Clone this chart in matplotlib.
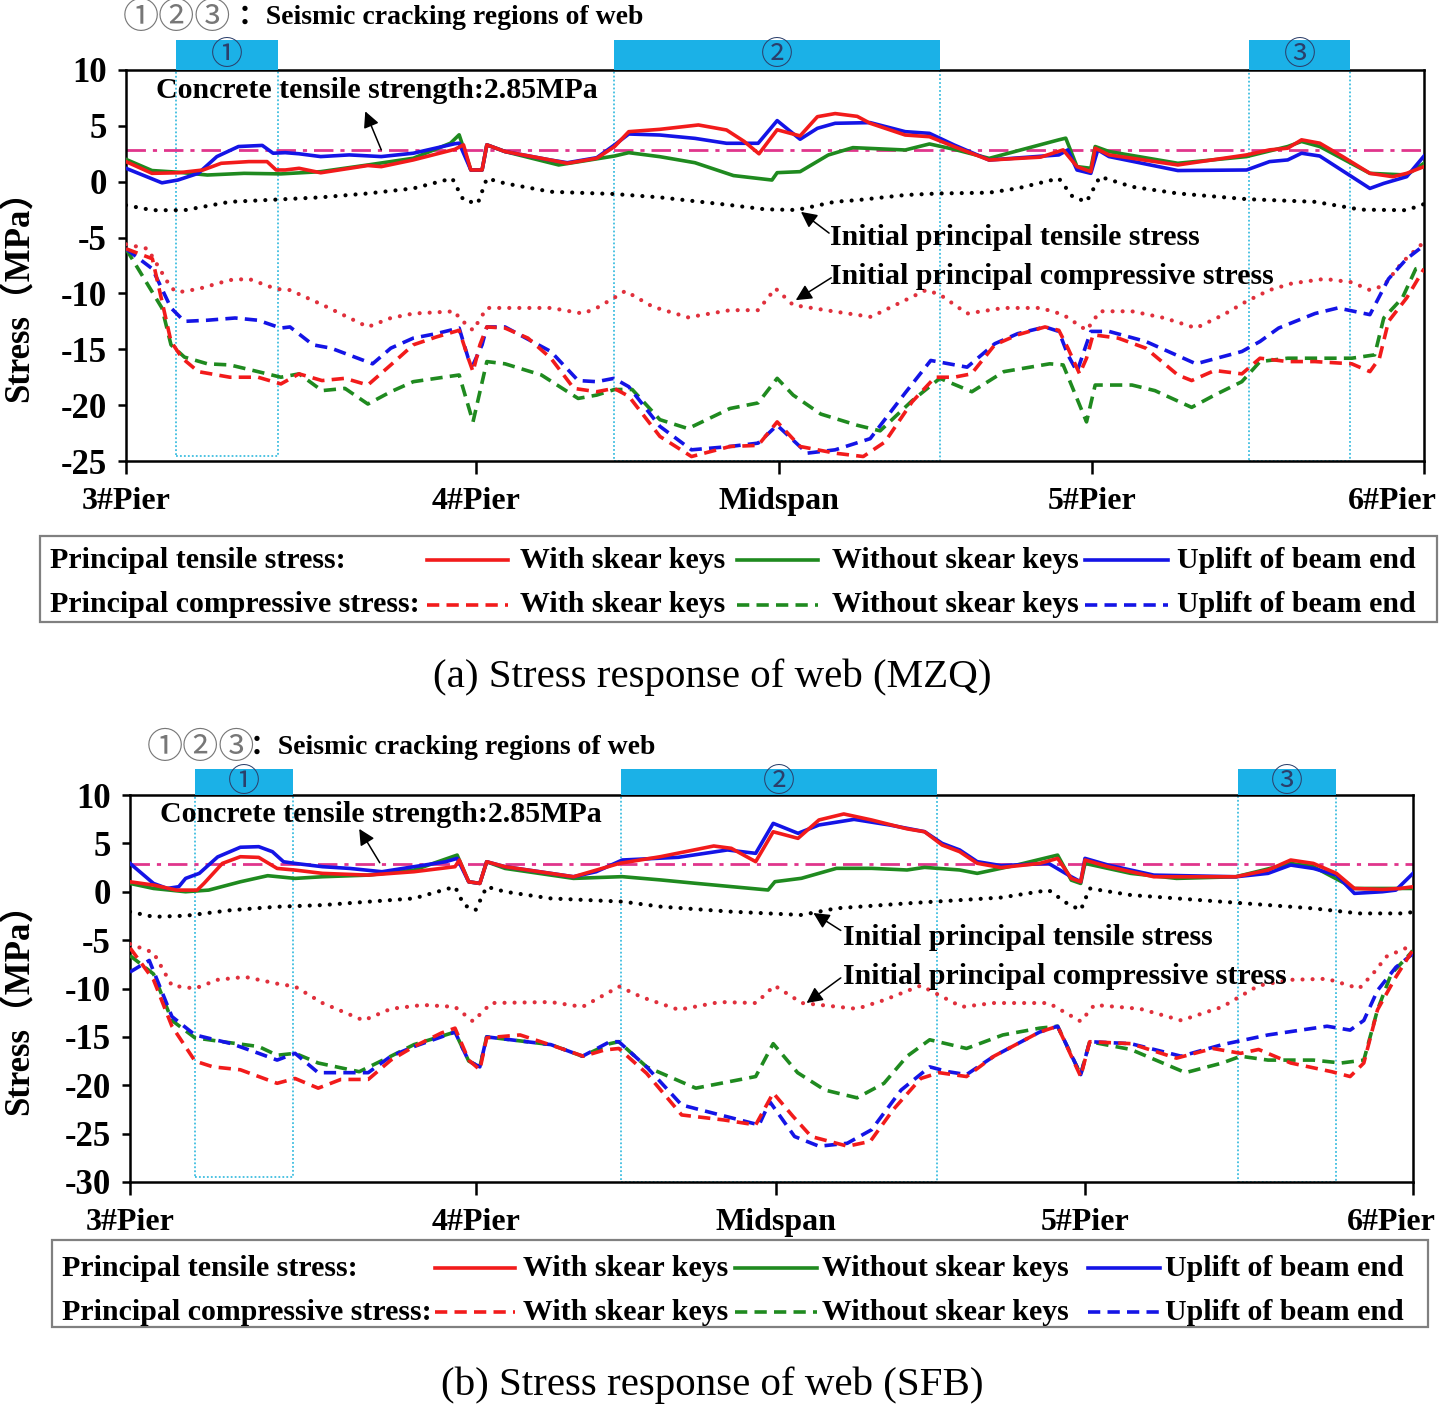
import matplotlib
matplotlib.use("Agg")
import matplotlib.pyplot as plt
from matplotlib.patches import Rectangle
from matplotlib.transforms import blended_transform_factory

plt.rcParams["axes.unicode_minus"] = False

# ---------------------------------------------------------------------------
# DATA  (x = distance along the girder, y = stress in MPa)
# ---------------------------------------------------------------------------
PIER_X = [0, 81, 151, 223.3, 300]
PIER_LABELS = ["3#Pier", "4#Pier", "Midspan", "5#Pier", "6#Pier"]
TENSILE_STRENGTH = 2.85

# ---- panel (a) MZQ --------------------------------------------------------
A_REGIONS = [(11.6, 35.1), (112.8, 188.1), (259.5, 282.9)]

a_t_with_x = [0, 6, 12, 17.8, 22, 28.4, 32.6, 34.7, 36.8, 40, 45, 55.9, 59, 66.4, 76, 78, 79.7, 82.3, 83.4,
              87.6, 98, 102, 108.8, 112.9, 116.2, 123.4, 132.3, 138.8, 142.9, 146.3, 150.5, 155.8, 159.8,
              163.9, 169, 172, 180.1, 185.7, 191.4, 199.5, 211.4, 216.6, 219.8, 223, 224, 227.2, 243.1,
              253.7, 259, 264.3, 268.5, 271.7, 275.9, 281.2, 287.5, 292.8, 296, 300]
a_t_with_y = [1.8, 0.75, 0.8, 1.05, 1.65, 1.8, 1.8, 1.05, 1.05, 1.2, 0.8, 1.45, 1.35, 1.95, 2.9, 3.3, 1.05,
              1.05, 3.3, 2.7, 1.95, 1.65, 2.1, 3.14, 4.48, 4.69, 5.08, 4.63, 3.6, 2.5, 4.65, 4.1, 5.82, 6.1,
              5.85, 5.23, 4.18, 4.03, 3.14, 1.94, 2.2, 2.85, 1.35, 0.9, 3.0, 2.4, 1.5, 2.1, 2.4, 2.85, 3.0,
              3.75, 3.45, 2.25, 0.75, 0.45, 0.75, 1.35]

a_t_without_x = [0, 6, 12, 18.8, 27.3, 35.8, 45, 55.9, 66.4, 75, 77, 79.7, 82.3, 83.4, 87.6, 100, 112.9,
                 116.2, 123.4, 131.5, 140.4, 149.3, 150.5, 155.8, 162.3, 168, 180.1, 185.7, 191.4, 199.5,
                 215.6, 217.2, 219.8, 223, 224, 227.2, 243.1, 259, 268.5, 271.7, 275.9, 287.5, 296, 300]
a_t_without_y = [2.0, 1.0, 0.85, 0.6, 0.75, 0.7, 0.9, 1.5, 2.1, 3.45, 4.2, 1.05, 1.05, 3.3, 2.7, 1.5, 2.3,
                 2.6, 2.24, 1.7, 0.55, 0.15, 0.81, 0.9, 2.39, 3.05, 2.84, 3.38, 2.9, 2.09, 3.75, 3.9, 1.35,
                 1.2, 3.15, 2.7, 1.65, 2.25, 3.15, 3.6, 3.15, 0.75, 0.6, 1.65]

a_t_uplift_x = [0, 8.3, 12, 16.7, 21, 26, 31.5, 34, 36.8, 40, 45, 51.6, 59, 66.4, 76, 77, 79.7, 82.3, 83.4,
                87.6, 98, 102, 108.8, 112.9, 116.2, 123.4, 131.5, 138.8, 146.1, 150.5, 155.8, 159.8, 163.9,
                172, 180.1, 185.7, 191.4, 199.5, 215.6, 217.7, 219.8, 223, 224.6, 227.2, 243.1, 259, 264.3,
                268.5, 271.7, 275.9, 287.5, 290.7, 296, 300]
a_t_uplift_y = [1.2, -0.1, 0.15, 0.75, 2.25, 3.15, 3.25, 2.55, 2.6, 2.5, 2.25, 2.4, 2.25, 2.55, 3.4, 3.45,
                1.05, 1.05, 3.3, 2.7, 1.95, 1.7, 2.15, 3.29, 4.27, 4.18, 3.88, 3.44, 3.44, 5.47, 3.8, 4.78,
                5.23, 5.29, 4.48, 4.33, 3.29, 1.94, 2.4, 2.85, 1.05, 0.75, 2.85, 2.25, 1.0, 1.05, 1.8, 1.95,
                2.55, 2.3, -0.6, -0.15, 0.45, 2.3]

a_t_init_x = [0, 6.1, 13.5, 24, 34.7, 45, 55.9, 66.4, 75.4, 78, 81.3, 83.4, 87.6, 98.2, 112.8, 123.4, 139.6,
              147.7, 155, 163.9, 169, 180.1, 188, 199.5, 206, 215.6, 218.8, 222, 225.1, 232.5, 243.1, 259,
              274.8, 285.4, 296, 300]
a_t_init_y = [-2.1, -2.55, -2.55, -1.8, -1.6, -1.4, -1.05, -0.6, 0.3, -1.65, -1.95, 0.3, -0.15, -0.9, -1.1,
              -1.4, -2.09, -2.47, -2.53, -1.79, -1.65, -1.19, -1.05, -0.98, -0.6, 0.3, -1.35, -1.8, 0.45,
              -0.45, -1.05, -1.56, -1.8, -2.5, -2.55, -2.0]

a_c_init_x = [0, 5, 10.4, 12, 16.7, 24, 28.4, 34.7, 37.9, 45.3, 55.9, 61.2, 66.4, 76, 77, 80.2, 83.4, 87.6,
              98.2, 105.6, 108.8, 112.8, 115.4, 121.8, 129.9, 139.6, 146.1, 150.1, 154.2, 163.9, 172.2,
              179.6, 184.9, 188.1, 194.4, 202.9, 211.4, 216.6, 222, 225.1, 232.5, 240, 247.3, 253.7, 259,
              264.3, 269.5, 277, 283.3, 287.5, 290.7, 295, 300]
a_c_init_y = [-5.6, -6.0, -9.5, -9.9, -9.6, -8.8, -8.7, -9.6, -9.7, -11.0, -13.0, -12.2, -11.8, -11.6,
              -12.2, -13.3, -11.3, -11.3, -11.3, -11.8, -11.3, -10.4, -9.78, -11.2, -12.14, -11.5, -11.5,
              -9.55, -11.04, -11.63, -12.1, -10.7, -9.7, -10.1, -11.8, -11.3, -11.3, -11.9, -13.3, -11.6,
              -11.6, -12.2, -13.1, -11.9, -10.7, -9.7, -9.1, -8.7, -9.0, -9.7, -9.3, -7.2, -5.4]

a_c_with_x = [0, 6.1, 10.4, 13, 16.7, 24, 30.5, 35.8, 40, 45.3, 50.6, 55.9, 61.2, 66.4, 71.7, 77, 79.1, 80.2,
              81.8, 83.4, 87.6, 92.9, 98.2, 103.5, 108.8, 112.8, 116.2, 123.4, 130.7, 139.6, 146.1, 150.5,
              155.8, 163.9, 170.4, 175.4, 181.7, 187, 191.4, 195.4, 200.8, 206.1, 212.4, 215.6, 217.7,
              220.4, 222, 223.5, 229.3, 235.7, 243.1, 246.3, 251.6, 257.9, 262.1, 268.5, 274.8, 283.3,
              287.5, 289.7, 291.8, 296, 300]
a_c_with_y = [-6.0, -6.9, -14.3, -15.8, -17.0, -17.5, -17.5, -18.1, -17.2, -17.8, -17.6, -18.2, -16.4,
              -14.6, -13.9, -13.3, -15.8, -17.0, -14.6, -13.0, -13.1, -14.0, -15.8, -18.5, -18.8, -18.5,
              -19.2, -22.8, -24.6, -23.7, -23.6, -21.5, -23.7, -24.3, -24.6, -23.3, -19.7, -17.5, -17.5,
              -17.2, -14.6, -13.7, -13.0, -13.3, -14.9, -17.2, -15.8, -13.7, -14.0, -14.9, -17.3, -17.8,
              -16.9, -17.2, -15.8, -16.1, -16.1, -16.3, -17.0, -15.8, -12.5, -10.4, -7.8]

a_c_without_x = [0, 8.3, 10.4, 13.5, 18.8, 24, 30.5, 35.8, 40, 45.3, 50.6, 55.9, 61.2, 66.4, 77, 80.2, 83.4,
                 87.6, 96, 104.5, 108.8, 112.9, 117, 123.4, 129.9, 139.6, 146.1, 150.5, 154.2, 160.6, 169,
                 174.3, 181.7, 188.1, 195.5, 202.9, 213.5, 216.6, 222, 224, 232.5, 237.8, 246.3, 251.6,
                 257.9, 262.1, 268.5, 274.8, 283.3, 288.6, 290.7, 295, 298.1, 300]
a_c_without_y = [-6.0, -11.3, -14.6, -15.7, -16.3, -16.4, -17.0, -17.5, -17.2, -18.7, -18.5, -19.9, -18.8,
                 -17.9, -17.3, -21.5, -16.1, -16.3, -17.3, -19.4, -19.1, -18.6, -18.6, -21.3, -22.1, -20.3,
                 -19.8, -17.6, -19.1, -20.8, -21.8, -22.3, -19.6, -17.6, -18.8, -17.0, -16.3, -16.4, -21.5,
                 -18.2, -18.2, -18.7, -20.2, -19.1, -17.9, -16.1, -15.8, -15.8, -15.8, -15.5, -12.2, -10.4,
                 -7.8, -7.6]

a_c_uplift_x = [0, 6.1, 10.4, 13.5, 18.8, 25.2, 30.5, 35.8, 37.9, 43.2, 47.4, 57, 61.2, 66.4, 71.7, 77, 79.1,
                80.2, 82.3, 83.4, 87.6, 98.2, 104.5, 108.8, 112.8, 116.2, 123.4, 130.7, 139.6, 146.1, 150.5,
                157.4, 163.9, 172, 180.1, 186, 194.4, 200.8, 206.1, 212.4, 215.6, 217.7, 219.8, 223, 227.2,
                235.7, 247.3, 257.9, 262.1, 266.4, 274.8, 280.1, 287.5, 291.8, 296, 300]
a_c_uplift_y = [-6.0, -7.8, -11.3, -12.5, -12.4, -12.2, -12.4, -13.1, -13.0, -14.6, -14.9, -16.3, -14.9,
                -14.0, -13.6, -13.1, -15.8, -16.4, -14.6, -13.0, -13.0, -15.2, -17.8, -17.9, -17.6, -18.35,
                -21.9, -24.0, -23.7, -23.4, -21.8, -24.3, -24.0, -23.0, -18.9, -16.0, -16.6, -14.5, -13.6,
                -13.0, -13.4, -15.5, -17.0, -13.4, -13.4, -14.3, -16.3, -15.2, -14.3, -13.1, -11.8, -11.3,
                -11.9, -8.7, -6.9, -5.7]

# ---- panel (b) SFB --------------------------------------------------------
B_REGIONS = [(15.2, 38.1), (114.8, 188.7), (259.1, 282.0)]

b_t_with_x = [0, 5.5, 10.9, 15.7, 17.3, 21.6, 25.8, 30.1, 34.4, 38.6, 45, 55.7, 66.4, 76, 77, 79.2, 81.8,
              83.4, 87.7, 103.7, 114.4, 124.1, 136.5, 140.6, 146.3, 150.4, 156.2, 161.1, 166.9, 173.4, 181.7,
              185.8, 189.9, 194, 198.1, 203.7, 212.7, 216.9, 220.1, 222.3, 223.3, 228.7, 239.4, 258.6,
              266.1, 271.4, 276.7, 282.1, 286.3, 292.8, 297, 300]
b_t_with_y = [1.03, 0.69, 0.17, 0.17, 0.86, 2.93, 3.62, 3.55, 2.41, 2.24, 1.9, 1.72, 2.07, 2.59, 3.28,
              1.03, 0.86, 3.1, 2.59, 1.55, 2.93, 3.63, 4.73, 4.49, 3.11, 6.2, 5.52, 7.42, 8.04, 7.42, 6.5,
              6.2, 4.83, 4.14, 2.94, 2.5, 2.93, 3.45, 1.38, 1.03, 3.28, 2.59, 1.55, 1.55, 2.24, 3.28, 2.93,
              1.9, 0.34, 0.24, 0.34, 0.52]

b_t_without_x = [0, 5.5, 13, 18.4, 25.8, 32.2, 38.6, 45, 55.7, 66.4, 76.5, 79.2, 81.8, 83.4, 87.7, 103.7,
                 115.1, 124.1, 132.3, 140.6, 149.2, 150.8, 157, 165.2, 173.4, 181.7, 185.8, 194, 198.1,
                 207.3, 216.9, 220.1, 222.3, 223.3, 234, 244.7, 258.6, 271.4, 276.7, 286.3, 294.9, 300]
b_t_without_y = [0.86, 0.34, 0, 0.17, 1.03, 1.66, 1.38, 1.55, 1.72, 2.24, 3.79, 1.03, 0.86, 3.1, 2.41,
                 1.38, 1.56, 1.22, 0.87, 0.53, 0.18, 1.04, 1.39, 2.42, 2.42, 2.25, 2.52, 2.25, 1.9, 2.76,
                 3.79, 1.2, 0.86, 2.93, 1.9, 1.38, 1.55, 2.93, 2.59, 0.34, 0.34, 0.34]

b_t_uplift_x = [0, 5.5, 8.7, 11.4, 13, 16.2, 20.5, 25.8, 30.1, 33.3, 35.9, 38.6, 45, 51.4, 58.9, 66.4, 73.8,
                76.5, 79.2, 81.8, 83.4, 87.7, 98.4, 103.7, 109, 115.1, 128.2, 139.7, 146.3, 150.4, 156.2,
                161.1, 169.3, 177.6, 185.8, 189.9, 194, 198.1, 203.7, 214.8, 220.1, 222.3, 223.3, 228.7,
                239.4, 258.6, 266.1, 271.4, 276.7, 282.1, 286.3, 292.8, 296, 300]
b_t_uplift_y = [2.93, 0.86, 0.34, 0.52, 1.38, 1.9, 3.6, 4.6, 4.66, 4.14, 3.1, 2.93, 2.59, 2.41, 2.07, 2.59,
                3.1, 3.45, 1.03, 0.86, 3.1, 2.59, 1.9, 1.55, 2.07, 3.28, 3.56, 4.32, 3.97, 7.07, 6.04, 6.9,
                7.48, 6.9, 6.21, 5.0, 4.32, 3.11, 2.7, 2.93, 1.55, 1.03, 3.45, 2.76, 1.72, 1.55, 1.9, 2.76,
                2.41, 1.72, -0.17, 0, 0.17, 1.9]

b_t_init_x = [0, 5.5, 13, 23.7, 34.4, 45, 55.7, 66.4, 76, 78.1, 80.8, 83.4, 87.7, 98.4, 115.1, 124.1, 140.6,
              157, 165.2, 181.7, 203.7, 214.8, 219.1, 222.3, 224.4, 234, 255.4, 276.7, 287.4, 297.6, 300]
b_t_init_y = [-2.07, -2.59, -2.48, -1.9, -1.55, -1.38, -1.03, -0.69, 0.52, -1.38, -1.9, 0.52, 0, -0.69,
              -1.02, -1.54, -2.06, -2.4, -1.71, -1.2, -0.6, 0.17, -1.2, -1.9, 0.34, -0.34, -1.03, -1.72,
              -2.24, -2.24, -2.1]

b_c_init_x = [0, 5.5, 9.8, 15.2, 20.5, 26.9, 34.4, 38.6, 45, 54.6, 61, 68.5, 76, 80.2, 84.5, 98.4, 105.8,
              114.4, 119.7, 128.3, 137.9, 146.4, 150.7, 157.1, 170, 176.3, 184.9, 194.5, 202, 214.8, 222.3,
              225.5, 236.2, 245.8, 255.4, 263.9, 271.4, 279.9, 287.4, 290.6, 293.8, 300]
b_c_init_y = [-5.4, -6.3, -9.7, -10.0, -9.1, -8.8, -9.5, -9.8, -11.5, -13.3, -12.1, -11.7, -11.9, -13.4,
              -11.5, -11.4, -11.9, -9.8, -10.9, -12.2, -11.4, -11.5, -9.7, -11.5, -12.1, -11.2, -9.7,
              -11.9, -11.5, -11.5, -13.4, -11.7, -12.1, -13.3, -11.9, -9.7, -9.1, -9.0, -10.0, -8.5, -6.7,
              -5.5]

b_c_with_x = [0, 5.5, 9.8, 15.2, 19.4, 25.8, 34.4, 38.6, 44, 49.3, 55.7, 61, 66.4, 72.8, 76, 79.2, 81.8,
              83.4, 91.2, 99.5, 106, 111, 114.3, 120.8, 129, 138.9, 146.3, 150.4, 155, 159.3, 167.8, 173.1,
              178.5, 184.9, 189.2, 195.6, 202, 212.7, 216.9, 222.3, 224.4, 234, 244.7, 253.2, 259.7, 263.9,
              271.4, 281, 285.3, 288.5, 291.7, 296, 300]
b_c_with_y = [-5.8, -9.1, -13.9, -17.5, -18.1, -18.4, -19.8, -19.3, -20.3, -19.4, -19.4, -17.4, -16.0,
              -14.6, -14.1, -17.4, -18.4, -15.1, -14.8, -16.0, -17.0, -16.35, -16.2, -18.77, -23.07, -23.59,
              -24.1, -20.8, -23.2, -25.3, -26.3, -25.8, -22.5, -19.3, -18.7, -19.1, -17.0, -14.5, -13.9,
              -19.1, -15.5, -15.7, -17.2, -16.2, -16.7, -16.3, -17.7, -18.6, -19.1, -17.7, -12.2, -8.8, -6.0]

b_c_without_x = [0, 5.5, 9.8, 15.2, 21.6, 30.1, 34.4, 38.6, 44, 53.6, 61, 66.4, 76, 79.2, 81.8, 83.4, 98.4,
                 105.8, 112.2, 114.3, 120.8, 132.3, 146.3, 150.4, 156.1, 162.5, 170, 176.3, 181.7, 187,
                 195.6, 204.1, 212.7, 216.9, 222.3, 224.4, 234, 246.8, 255.4, 259.7, 266.1, 276.7, 283.2,
                 288.5, 291.7, 294.9, 300]
b_c_without_y = [-6.6, -8.5, -13.3, -15.1, -15.5, -16.0, -16.9, -16.7, -17.7, -18.6, -17.0, -15.8, -14.5,
                 -17.5, -18.1, -15.0, -15.8, -17.0, -15.7, -15.5, -18.1, -20.3, -19.1, -15.7, -18.7, -20.5,
                 -21.3, -19.8, -17.0, -15.3, -16.2, -14.8, -14.1, -13.9, -18.9, -15.5, -16.3, -18.7, -17.7,
                 -17.0, -17.4, -17.4, -17.7, -17.4, -12.2, -8.5, -6.1]

b_c_uplift_x = [0, 4.5, 9.8, 15.2, 23.7, 30.1, 34.4, 38.6, 44, 50.4, 55.7, 61, 66.4, 76, 79.2, 81.8, 83.4,
                98.4, 105.8, 112.2, 114.3, 120.8, 129, 136.5, 147.1, 149.6, 155.4, 161.1, 167.7, 173.4,
                180.3, 187, 191.3, 195.6, 202, 212.7, 216.9, 222.3, 224.4, 234, 245.8, 255.4, 266.1, 279.9,
                285.3, 288.5, 291.7, 296, 300]
b_c_uplift_y = [-8.3, -7.1, -12.9, -14.8, -15.7, -16.7, -17.4, -16.7, -18.7, -18.7, -18.7, -17.0, -16.0,
                -14.5, -17.5, -18.1, -15.0, -15.8, -17.0, -15.5, -15.5, -18.1, -22.04, -22.9, -24.1, -21.7,
                -25.3, -26.3, -26.0, -24.6, -20.5, -18.1, -18.6, -18.9, -17.0, -14.5, -13.9, -18.9, -15.5,
                -15.7, -17.0, -15.8, -14.8, -13.9, -14.3, -13.3, -10.2, -7.8, -6.4]

# ---------------------------------------------------------------------------
# STYLE
# ---------------------------------------------------------------------------
W, H = 1440, 1408
SERIF = ["Liberation Serif", "Noto Sans CJK SC"]
CJK = ["Noto Sans CJK SC", "DejaVu Sans"]
RED, GREEN, BLUE = "#F21B1B", "#1F8A1F", "#1414E6"
INIT_RED = "#E0303C"
CYAN, CYAN_EDGE = "#1BB1E7", "#3FBEE0"
PINK = "#E0358C"
DASH = (0, (3.4, 2.0))
DOT = (0, (0.01, 2.4))
LW = 2.6

fig = plt.figure(figsize=(W / 100, H / 100), dpi=100)


def px_axes(l, t, r, b):
    return fig.add_axes([l / W, 1 - b / H, (r - l) / W, (b - t) / H])


def draw_panel(ax, regions, ylim, bar_h, box_bottom, last_shift, series, notes):
    tr = blended_transform_factory(ax.transData, ax.transAxes)
    for k, (x0, x1) in enumerate(regions):
        ax.add_patch(Rectangle((x0, 1.0), x1 - x0, bar_h, transform=tr, facecolor=CYAN,
                               edgecolor="none", clip_on=False, zorder=5))
        ax.text((x0 + x1) / 2, 1.0 + bar_h / 2, "①②③"[k], transform=tr, ha="center", va="center",
                fontsize=23, color="#2B3F6B", family=CJK, zorder=6)
        ax.add_patch(Rectangle((x0, box_bottom[k]), x1 - x0, 1.0 - box_bottom[k], transform=tr,
                               facecolor="none", edgecolor=CYAN_EDGE, lw=1.3, ls=(0, (1, 1.2)),
                               clip_on=False, zorder=1))
    ax.axhline(TENSILE_STRENGTH, color=PINK, lw=2.0, ls=(0, (7, 2.5, 1.5, 2.5)), zorder=2)
    for x, y, color, ls in series:
        dotted = ls is DOT
        ax.plot(x, y, color=color, ls=ls, lw=3.0 if dotted else LW, zorder=3,
                dash_capstyle="round" if dotted else "butt")

    ax.set_xlim(0, 300)
    ax.set_ylim(*ylim)
    ax.set_xticks(PIER_X)
    ax.set_xticklabels(PIER_LABELS[:-1] + [""])
    ax.set_yticks(range(ylim[0], ylim[1] + 1, 5))
    ax.tick_params(axis="x", direction="out", length=9, width=1.8, pad=10)
    ax.tick_params(axis="y", direction="out", length=6, width=1.8, pad=8)
    for lab in ax.get_xticklabels():
        lab.set_fontfamily(SERIF); lab.set_fontweight("bold"); lab.set_fontsize(23)
    for lab in ax.get_yticklabels():
        lab.set_fontfamily(SERIF); lab.set_fontweight("bold"); lab.set_fontsize(25)
    # last pier label sits flush against the right edge, as in the original
    ax.annotate(PIER_LABELS[-1], xy=(PIER_X[-1], 0), xycoords=tr, xytext=(last_shift, -26),
                textcoords="offset pixels", ha="right", va="top", family=SERIF, fontweight="bold",
                fontsize=23, annotation_clip=False)
    for sp in ax.spines.values():
        sp.set_linewidth(1.8)

    txt_kw = dict(family=SERIF, fontweight="bold", fontsize=21.5, va="center", ha="left", zorder=7)
    arrow = dict(arrowstyle="-|>", color="black", lw=1.1, mutation_scale=24, shrinkA=0, shrinkB=0)
    for label, (tx, ty), head, tail in notes:
        ax.text(tx, ty, label, **txt_kw)
        ax.annotate("", xy=head, xytext=tail, arrowprops=arrow, zorder=7)


def series_list(t_with, t_without, t_uplift, t_init, c_init, c_with, c_without, c_uplift):
    return [
        (*t_init, "black", DOT),
        (*c_init, INIT_RED, DOT),
        (*c_without, GREEN, DASH),
        (*c_uplift, BLUE, DASH),
        (*c_with, RED, DASH),
        (*t_without, GREEN, "-"),
        (*t_uplift, BLUE, "-"),
        (*t_with, RED, "-"),
    ]


ax_a = px_axes(126, 70, 1424, 461)
draw_panel(
    ax_a, A_REGIONS, (-25, 10), 30 / 391, [5 / 391, 0, 0], 13,
    series_list((a_t_with_x, a_t_with_y), (a_t_without_x, a_t_without_y), (a_t_uplift_x, a_t_uplift_y),
                (a_t_init_x, a_t_init_y), (a_c_init_x, a_c_init_y), (a_c_with_x, a_c_with_y),
                (a_c_without_x, a_c_without_y), (a_c_uplift_x, a_c_uplift_y)),
    [("Concrete tensile strength:2.85MPa", (7.0, 8.2), (55.3, 6.3), (59.0, 2.85)),
     ("Initial principal tensile stress", (162.7, -4.95), (156.0, -2.7), (162.5, -4.6)),
     ("Initial principal compressive stress", (162.7, -8.45), (154.8, -10.6), (163.0, -8.6))],
)

ax_b = px_axes(130, 795, 1413, 1182)
draw_panel(
    ax_b, B_REGIONS, (-30, 10), 26 / 387, [5 / 387, 0, 0], 23,
    series_list((b_t_with_x, b_t_with_y), (b_t_without_x, b_t_without_y), (b_t_uplift_x, b_t_uplift_y),
                (b_t_init_x, b_t_init_y), (b_c_init_x, b_c_init_y), (b_c_with_x, b_c_with_y),
                (b_c_without_x, b_c_without_y), (b_c_uplift_x, b_c_uplift_y)),
    [("Concrete tensile strength:2.85MPa", (7.0, 7.95), (53.6, 6.5), (58.4, 3.0)),
     ("Initial principal tensile stress", (166.7, -4.7), (159.8, -2.2), (166.2, -4.0)),
     ("Initial principal compressive stress", (166.7, -8.75), (158.2, -11.5), (166.2, -8.9))],
)

# ---------------------------------------------------------------------------
# overlay in pixel coordinates: headers, y labels, legends, captions
# ---------------------------------------------------------------------------
ov = fig.add_axes([0, 0, 1, 1], zorder=-1)
ov.set_xlim(0, W); ov.set_ylim(H, 0); ov.axis("off")

bold = dict(family=SERIF, fontweight="bold")
for (x0, y0, xc) in [(123, 18, 238), (147, 748, 250)]:
    ov.text(x0, y0, "①②③", family=CJK, fontsize=26, color="#777777", va="center", ha="left")
    ov.text(xc, y0, "：Seismic cracking regions of web", fontsize=20, va="center", ha="left", **bold)

for yc in (287, 1000):
    ov.text(20, yc, "Stress（MPa）", rotation=90, fontsize=25, va="center", ha="center", **bold)

LEGEND_ROWS = ["Principal tensile stress:", "Principal compressive stress:"]
LEGEND_NAMES = ["With skear keys", "Without skear keys", "Uplift of beam end"]
LEGEND_COLORS = [RED, GREEN, BLUE]
legend_layout = [
    dict(box=(40, 536, 1437, 622), rows=(560, 605), lx=50,
         samples=[(427, 508, 520), (737, 818, 832), (1085, 1168, 1177)]),
    dict(box=(52, 1240, 1428, 1327), rows=(1268, 1312), lx=62,
         samples=[(435, 515, 523), (735, 817, 822), (1088, 1160, 1165)]),
]
for lay in legend_layout:
    l, t, r, b = lay["box"]
    ov.add_patch(Rectangle((l, t), r - l, b - t, facecolor="none", edgecolor="#808080", lw=1.6))
    for row, yr, ls in zip(LEGEND_ROWS, lay["rows"], ["-", DASH]):
        ov.text(lay["lx"], yr, row, fontsize=21.5, va="center", ha="left", **bold)
        for (s0, s1, tx), name, color in zip(lay["samples"], LEGEND_NAMES, LEGEND_COLORS):
            ov.plot([s0, s1], [yr, yr], color=color, lw=LW, ls=ls)
            ov.text(tx, yr, name, fontsize=21.5, va="center", ha="left", **bold)

ov.text(712, 677, "(a) Stress response of web (MZQ)", family=SERIF, fontsize=29.5, ha="center", va="center")
ov.text(712, 1385, "(b) Stress response of web (SFB)", family=SERIF, fontsize=29.5, ha="center", va="center")

fig.savefig("out.png", dpi=100, facecolor="white")
